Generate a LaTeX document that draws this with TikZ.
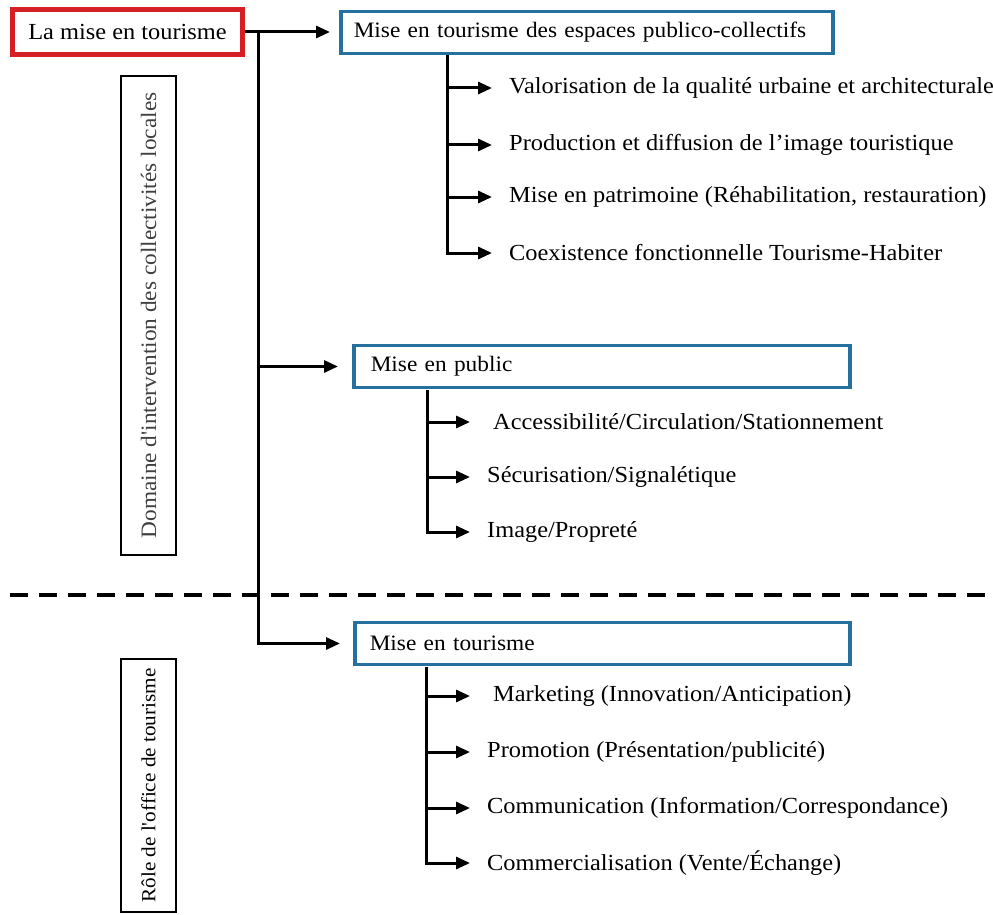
\documentclass[tikz,border=0pt]{standalone}
\usepackage{fontspec}
\setmainfont{Liberation Serif}[Ligatures=TeXOff, FakeStretch=1.06]
\usetikzlibrary{arrows.meta}
\definecolor{rouge}{RGB}{212,32,36}
\definecolor{bleu}{RGB}{38,112,160}

\begin{document}
\begin{tikzpicture}[x=1pt, y=-1pt,
    every node/.style={font=\fontsize{23}{27}\selectfont},
    titre/.style={draw=rouge, line width=5pt, minimum width=230pt, minimum height=45pt},
    cadre/.style={draw=bleu, line width=3.5pt, anchor=west, minimum height=42pt, align=left, font=\fontsize{22}{26}\selectfont},
    cote/.style={draw, line width=2.5pt, rotate=90, minimum height=55pt},
    item/.style={anchor=west, inner sep=0pt},
    trait/.style={line width=3pt},
    fleche/.style={trait, -{Triangle[length=14pt, width=12pt]}}]

    % paramètres
    \def\xT{258}   % tronc principal
    \def\xA{447}   % tronc des espaces
    \def\xB{427}   % tronc du public
    \def\xC{426}   % tronc de l'office

    \useasboundingbox (0,0) rectangle (993,915);

    % titre
    \node[titre] (titre) at (127.5,32) {La mise en tourisme};

    % les trois cadres
    \node[cadre, text width=466pt, inner xsep=13pt] (espaces) at (339,32.5) {Mise en tourisme des espaces publico-collectifs};
    \node[cadre, text width=462pt, inner xsep=17pt] (public) at (352,366.5) {Mise en public};
    \node[cadre, text width=465pt, inner xsep=15pt] (office) at (353,643.5) {Mise en tourisme};

    % cadres verticaux
    \node[cote, minimum width=479pt, text=black!75, font=\fontsize{22}{26}\selectfont] (domaine) at (148.5,315.5) {Domaine d'intervention des collectivités locales};
    \node[cote, minimum width=253pt, font=\fontsize{20}{24}\selectfont] (role) at (148.5,785.5) {Rôle de l'office de tourisme};

    % tronc principal
    \coordinate (j1) at (\xT,32);
    \coordinate (j2) at (\xT,366.5);
    \draw[fleche, shorten >=9pt] (titre.east) -- (titre.east -| espaces.west);
    \draw[fleche, shorten >=14pt] (j2) -- (public.west);
    \draw[fleche, shorten >=13pt] (j1) |- (office.west);

    % séparation
    \coordinate (dg) at (10,595);
    \coordinate (dd) at (993,595);
    \draw[line width=4pt, dash pattern=on 18pt off 11pt] (dg) -- (dd);

    % espaces publico-collectifs
    \coordinate (ea) at (\xA,55);
    \foreach \y/\t [count=\i] in {88/Valorisation de la qualité urbaine et architecturale,
                                 145/Production et diffusion de l’image touristique,
                                 197/{Mise en patrimoine (Réhabilitation, restauration)},
                                 253/Coexistence fonctionnelle Tourisme-Habiter}
        \node[item] (e\i) at (509,\y) {\t};
    \foreach \i in {1,2,3}
        \draw[fleche, shorten >=17pt] (e\i.west -| ea) -- (e\i.west);
    \draw[fleche, shorten >=17pt] (ea) |- (e4.west);

    % mise en public
    \coordinate (pa) at (\xB,390);
    \foreach \x/\y/\t [count=\i] in {493/422/{Accessibilité/Circulation/Stationnement},
                                    487/477/{Sécurisation/Signalétique},
                                    487/532/{Image/Propreté}}
        \node[item] (p\i) at (\x,\y) {\t};
    \draw[fleche, shorten >=23pt] (p1.west -| pa) -- (p1.west);
    \draw[fleche, shorten >=17pt] (p2.west -| pa) -- (p2.west);
    \draw[fleche, shorten >=17pt] (pa) |- (p3.west);

    % office de tourisme
    \coordinate (oa) at (\xC,667);
    \foreach \x/\y/\t [count=\i] in {493/696/{Marketing (Innovation/Anticipation)},
                                    487/752/{Promotion (Présentation/publicité)},
                                    487/808/{Communication (Information/Correspondance)},
                                    487/863/{Commercialisation (Vente/Échange)}}
        \node[item] (o\i) at (\x,\y) {\t};
    \draw[fleche, shorten >=23pt] (o1.west -| oa) -- (o1.west);
    \foreach \i in {2,3}
        \draw[fleche, shorten >=17pt] (o\i.west -| oa) -- (o\i.west);
    \draw[fleche, shorten >=17pt] (oa) |- (o4.west);
\end{tikzpicture}
\end{document}
